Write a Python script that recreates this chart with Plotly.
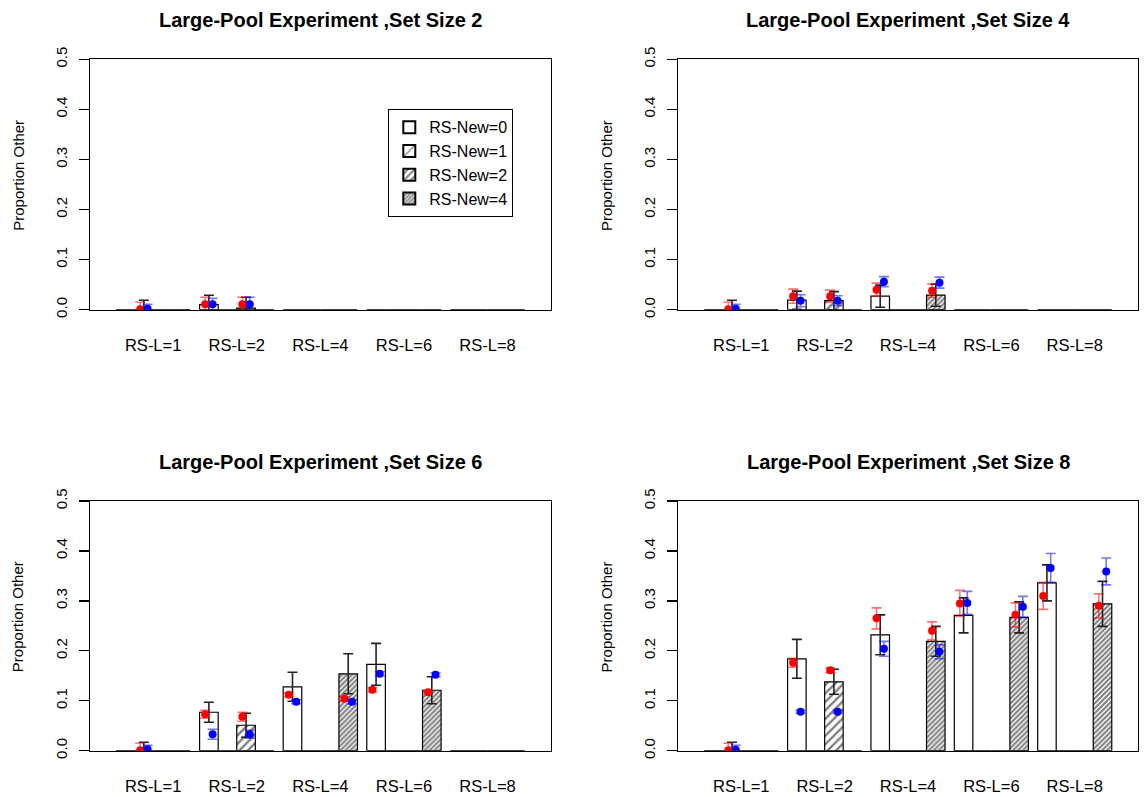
import plotly.graph_objects as go

W, H = 1144, 797

# ---------------- data ----------------
rs_l_labels = ["RS-L=1", "RS-L=2", "RS-L=4", "RS-L=6", "RS-L=8"]
rs_new_levels = [0, 1, 2, 4]
rs_new_names = ["RS-New=0", "RS-New=1", "RS-New=2", "RS-New=4"]
set_sizes = [2, 4, 6, 8]

# Set size 2 (group index into rs_l_labels, RS-New level)
ss2_group = [0, 1, 1]
ss2_new = [1, 0, 2]
ss2_obs = [0.000, 0.010, 0.003]
ss2_obs_se = [0.019, 0.019, 0.022]
ss2_red = [0.001, 0.011, 0.011]
ss2_red_se = [0.014, 0.014, 0.014]
ss2_blue = [0.002, 0.011, 0.011]
ss2_blue_se = [0.009, 0.012, 0.014]

# Set size 4
ss4_group = [0, 1, 1, 2, 2]
ss4_new = [1, 0, 2, 0, 4]
ss4_obs = [0.000, 0.019, 0.018, 0.027, 0.029]
ss4_obs_se = [0.019, 0.018, 0.018, 0.022, 0.022]
ss4_red = [0.001, 0.027, 0.027, 0.040, 0.038]
ss4_red_se = [0.014, 0.014, 0.012, 0.013, 0.013]
ss4_blue = [0.002, 0.018, 0.018, 0.056, 0.054]
ss4_blue_se = [0.009, 0.012, 0.010, 0.010, 0.011]

# Set size 6
ss6_group = [0, 1, 1, 2, 2, 3, 3]
ss6_new = [1, 0, 2, 0, 4, 0, 4]
ss6_obs = [0.000, 0.077, 0.051, 0.128, 0.154, 0.173, 0.121]
ss6_obs_se = [0.017, 0.020, 0.024, 0.029, 0.040, 0.042, 0.027]
ss6_red = [0.001, 0.073, 0.068, 0.112, 0.104, 0.122, 0.117]
ss6_red_se = [0.014, 0.008, 0.009, 0.004, 0.004, 0.004, 0.004]
ss6_blue = [0.003, 0.033, 0.033, 0.098, 0.098, 0.154, 0.152]
ss6_blue_se = [0.008, 0.010, 0.008, 0.004, 0.004, 0.004, 0.004]

# Set size 8
ss8_group = [0, 1, 1, 2, 2, 3, 3, 4, 4]
ss8_new = [1, 0, 2, 0, 4, 0, 4, 0, 4]
ss8_obs = [0.000, 0.184, 0.138, 0.232, 0.219, 0.271, 0.267, 0.336, 0.294]
ss8_obs_se = [0.017, 0.039, 0.025, 0.040, 0.030, 0.035, 0.031, 0.036, 0.045]
ss8_red = [0.001, 0.176, 0.161, 0.265, 0.240, 0.295, 0.272, 0.310, 0.290]
ss8_red_se = [0.014, 0.009, 0.005, 0.021, 0.018, 0.026, 0.024, 0.027, 0.024]
ss8_blue = [0.002, 0.078, 0.078, 0.204, 0.198, 0.296, 0.288, 0.366, 0.359]
ss8_blue_se = [0.009, 0.003, 0.003, 0.015, 0.014, 0.023, 0.021, 0.029, 0.027]

y_ticks = [0.0, 0.1, 0.2, 0.3, 0.4, 0.5]
y_tick_labels = ["0.0", "0.1", "0.2", "0.3", "0.4", "0.5"]

# ---------------- layout geometry (pixels) ----------------
FONT = "Liberation Sans, Arial, Helvetica, sans-serif"
GROUP_STRIDE = 4.5
panel_px = [  # x0, x1, ytop, ybottom
    (90.0, 550.7, 59.3, 309.7),
    (678.3, 1137.7, 59.3, 309.7),
    (90.0, 550.7, 501.0, 750.7),
    (678.3, 1137.7, 501.0, 750.7),
]
patterns = [
    dict(shape="", fgcolor="black", bgcolor="white"),
    dict(shape="/", size=12, solidity=0.15, fgcolor="black", bgcolor="white"),
    dict(shape="/", size=6, solidity=0.4, fgcolor="black", bgcolor="white"),
    dict(shape="/", size=3.5, solidity=0.6, fgcolor="black", bgcolor="white"),
]

panel_data = [
    (ss2_group, ss2_new, ss2_obs, ss2_obs_se, ss2_red, ss2_red_se, ss2_blue, ss2_blue_se),
    (ss4_group, ss4_new, ss4_obs, ss4_obs_se, ss4_red, ss4_red_se, ss4_blue, ss4_blue_se),
    (ss6_group, ss6_new, ss6_obs, ss6_obs_se, ss6_red, ss6_red_se, ss6_blue, ss6_blue_se),
    (ss8_group, ss8_new, ss8_obs, ss8_obs_se, ss8_red, ss8_red_se, ss8_blue, ss8_blue_se),
]

fig = go.Figure()
annotations = []

for i, (grp, new, obs, obs_se, red, red_se, blue, blue_se) in enumerate(panel_data):
    xa = "x" if i == 0 else f"x{i+1}"
    ya = "y" if i == 0 else f"y{i+1}"
    pos = [rs_new_levels.index(n) for n in new]
    xc = [g * GROUP_STRIDE + p + 0.5 for g, p in zip(grp, pos)]

    # bars: one trace per RS-New level, all groups
    for k, name in enumerate(rs_new_names):
        heights = [0.0] * len(rs_l_labels)
        for g, p, v in zip(grp, pos, obs):
            if p == k:
                heights[g] = v
        fig.add_trace(go.Bar(
            x=[g * GROUP_STRIDE + k + 0.5 for g in range(len(rs_l_labels))],
            y=heights, width=1.0, name=name,
            marker=dict(color="white", line=dict(color="black", width=1.2),
                        pattern=patterns[k]),
            showlegend=(i == 0), legendrank=k,
            xaxis=xa, yaxis=ya, hoverinfo="skip",
        ))
    # observed error bars (black)
    fig.add_trace(go.Scatter(
        x=xc, y=obs, mode="markers", marker=dict(color="rgba(0,0,0,0)", size=1),
        error_y=dict(type="data", array=obs_se, color="#222222", thickness=1.6, width=5),
        showlegend=False, xaxis=xa, yaxis=ya, hoverinfo="skip",
    ))
    # red points
    fig.add_trace(go.Scatter(
        x=[v - 0.2 for v in xc], y=red, mode="markers",
        marker=dict(color="#ff0000", size=8),
        error_y=dict(type="data", array=red_se, color="rgba(255,0,0,0.55)", thickness=1.6, width=5),
        showlegend=False, xaxis=xa, yaxis=ya, hoverinfo="skip",
    ))
    # blue points
    fig.add_trace(go.Scatter(
        x=[v + 0.2 for v in xc], y=blue, mode="markers",
        marker=dict(color="#0000ff", size=8),
        error_y=dict(type="data", array=blue_se, color="rgba(0,0,255,0.55)", thickness=1.6, width=5),
        showlegend=False, xaxis=xa, yaxis=ya, hoverinfo="skip",
    ))

    x0, x1, yt, yb = panel_px[i]
    xkey = "xaxis" if i == 0 else f"xaxis{i+1}"
    ykey = "yaxis" if i == 0 else f"yaxis{i+1}"
    fig.update_layout(**{
        xkey: dict(domain=[x0 / W, x1 / W], anchor=ya, range=[-1.4, 23.4],
                   tickmode="array",
                   tickvals=[g * GROUP_STRIDE + 2 for g in range(len(rs_l_labels))],
                   ticktext=rs_l_labels, ticks="outside", ticklen=20,
                   tickcolor="rgba(0,0,0,0)", showline=True, mirror=True,
                   linecolor="black", linewidth=1.3, showgrid=False, zeroline=False,
                   tickfont=dict(family=FONT, size=16.5, color="black"),
                   fixedrange=True, automargin=False),
        ykey: dict(domain=[1 - yb / H, 1 - yt / H], anchor=xa, range=[0, 0.5],
                   tickmode="array", tickvals=y_ticks, ticktext=y_tick_labels,
                   tickangle=-90, ticks="outside", ticklen=10, tickcolor="black",
                   tickwidth=1.3, showline=True, mirror=True, linecolor="black",
                   linewidth=1.3, showgrid=False, zeroline=False,
                   ticklabelstandoff=6,
                   tickfont=dict(family=FONT, size=15, color="black"),
                   fixedrange=True, automargin=False),
    })
    # panel title
    annotations.append(dict(
        text=f"<b>Large-Pool Experiment ,Set Size {set_sizes[i]}</b>",
        x=(x0 + x1) / 2 / W, y=1 - (yt - 39) / H, xref="paper", yref="paper",
        xanchor="center", yanchor="middle", showarrow=False,
        font=dict(family=FONT, size=20, color="black")))
    # y-axis title
    annotations.append(dict(
        text="Proportion Other", textangle=-90,
        x=(x0 - 71.7) / W, y=1 - ((yt + yb) / 2 - 9) / H, xref="paper", yref="paper",
        xanchor="center", yanchor="middle", showarrow=False,
        font=dict(family=FONT, size=15, color="black")))

fig.update_layout(
    width=W, height=H, margin=dict(l=0, r=0, t=0, b=0),
    paper_bgcolor="white", plot_bgcolor="white",
    barmode="overlay", bargap=0,
    annotations=annotations,
    font=dict(family=FONT, color="black"),
    legend=dict(x=388.3 / W, y=1 - 109.3 / H, xanchor="left", yanchor="top",
                bordercolor="black", borderwidth=1, bgcolor="white",
                font=dict(family=FONT, size=16, color="black"),
                traceorder="normal", itemsizing="constant"),
)

fig.write_html(
    "out.html",
    config={"displayModeBar": False, "staticPlot": True},
    post_script="document.body.style.margin='0px';document.body.style.overflow='hidden';",
)
